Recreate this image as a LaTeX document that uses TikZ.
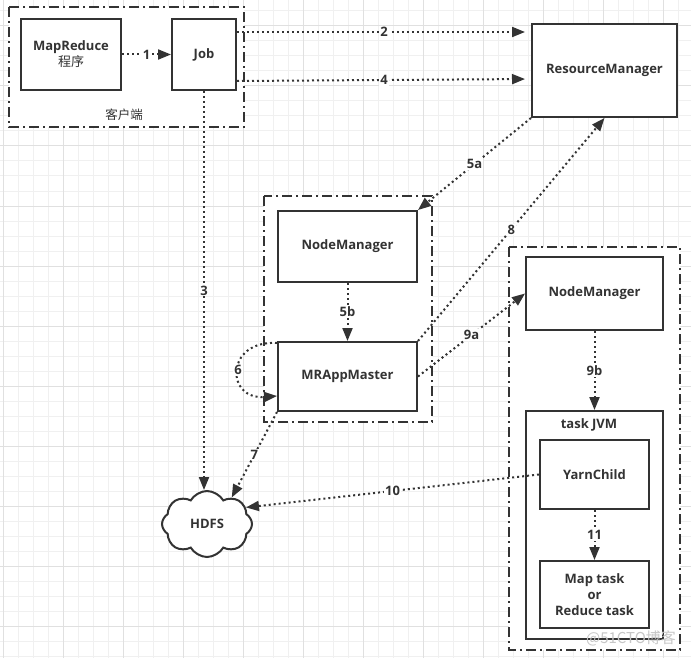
\documentclass[tikz,border=0pt]{standalone}
\usepackage{fontspec}
\setmainfont{Open Sans}
\newfontfamily\cjk{Noto Sans CJK SC}
\usepackage{tikz}
\usetikzlibrary{arrows.meta,shapes.symbols}
\definecolor{ink}{HTML}{333333}
\definecolor{gridminor}{HTML}{F0F0F0}
\definecolor{gridmajor}{HTML}{E0E0E0}

\begin{document}
\begin{tikzpicture}[x=1pt,y=-1pt,
  box/.style={draw=ink, line width=2pt, fill=white, inner sep=2pt, align=center, text=ink, font=\fontsize{13}{16}\selectfont\bfseries},
  group/.style={draw=ink, line width=2pt, fill=white, dash pattern=on 10pt off 4pt on 2pt off 4pt},
  flow/.style={draw=ink, line width=2pt, dash pattern=on 2pt off 3pt, -{Triangle[length=13pt,width=10pt]}},
  num/.style={fill=white, inner sep=1pt, text=ink, font=\fontsize{13}{16}\selectfont\bfseries}]
\useasboundingbox (0,0) rectangle (691,658);
\fill[white] (0,0) rectangle (691,658);
\foreach \x in {3.3,18.3,...,690} \draw[gridminor, line width=1pt] (\x,0) -- (\x,658);
\foreach \y in {11,26,...,658} \draw[gridminor, line width=1pt] (0,\y) -- (691,\y);
\foreach \x in {3.3,63.3,...,690} \draw[gridmajor, line width=1pt] (\x,0) -- (\x,658);
\foreach \y in {26,86,...,658} \draw[gridmajor, line width=1pt] (0,\y) -- (691,\y);

\draw[group] (9,7) rectangle (244,127);
\draw[group] (264,196) rectangle (432,422);
\draw[group] (509,247) rectangle (680,650);
\node[text=ink, font=\cjk\fontsize{12.5}{14}\selectfont] (client) at (124,115) {客户端};

\foreach \name/\x/\y/\w/\h/\txt in {
  mr/71/54.5/100/71/{MapReduce\\{\cjk\mdseries 程序}},
  job/204/54.5/64/71/Job,
  rm/604.5/70.5/145/93/ResourceManager,
  nm1/347.5/246.5/139/71/NodeManager,
  mram/347.5/376.5/139/69/MRAppMaster,
  nm2/594.5/293.5/137/73/NodeManager,
  jvm/594.5/525/137/228/{},
  yc/594.5/474.5/109/69/YarnChild,
  task/594.5/594.5/109/67/{Map task\\or\\Reduce task}}{
\node[box, minimum width=\w, minimum height=\h] (\name) at (\x,\y) {\txt};
}
\node[text=ink, font=\fontsize{13}{16}\selectfont\bfseries] (jvmlbl) at (589,425) {task JVM};
\node[cloud, cloud puffs=8, cloud puff arc=120, draw=ink, line width=2pt, fill=white, minimum width=90, minimum height=66, inner sep=0pt, text=ink, font=\fontsize{13}{16}\selectfont\bfseries] (hdfs) at (207,524) {HDFS};

\draw[flow] (mr.east) -- node[num]{1} (job.west);
\draw[flow, shorten >=6pt] ([yshift=-14pt]job.north east) -- node[num]{2} ([yshift=-9pt]rm.north west);
\draw[flow, shorten >=6pt] ([yshift=10pt]job.south east) -- node[num]{4} ([yshift=-56pt]rm.north west);
\draw[flow] (job.south) -- node[num]{3} (job.south |- hdfs.north);
\draw[flow] (rm.south west) -- node[num]{5a} (nm1.north east);
\draw[flow] (nm1.south) -- node[num]{5b} (mram.north);
\draw[flow] ([yshift=-2pt]mram.north west) .. controls (225,340) and (225,400) .. node[num]{6} ([yshift=16pt]mram.south west);
\draw[flow] (mram.south west) -- node[num]{7} (hdfs.47);
\draw[flow] (mram.north east) -- node[num]{8} (rm.south);
\draw[flow] (mram.east) -- node[num]{9a} (nm2.west);
\draw[flow] (nm2.south) -- node[num]{9b} (jvm.north);
\draw[flow] (yc.west) -- node[num]{10} (hdfs.23);
\draw[flow] (yc.south) -- node[num]{11} (task.north);

\node[text=black!22, font=\cjk\fontsize{15}{17}\selectfont] (mark) at (631,638) {@51CTO博客};
\end{tikzpicture}
\end{document}
